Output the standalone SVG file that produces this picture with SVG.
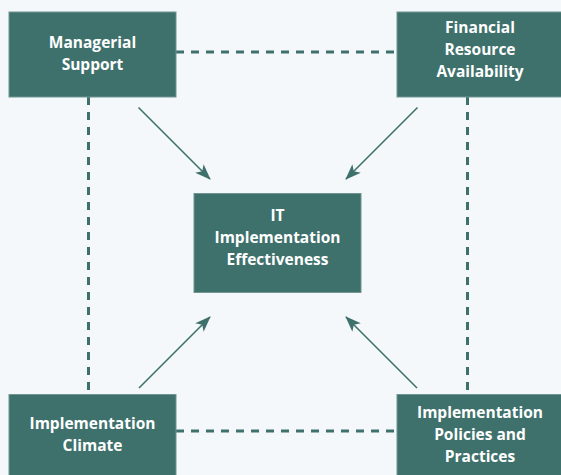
<svg xmlns="http://www.w3.org/2000/svg" width="561" height="475" viewBox="0 0 561 475">
<defs>
<style>
.box{fill:#3e716c;stroke:#6f9692;stroke-width:1}
.lbl{fill:#ffffff;font-family:"Open Sans","DejaVu Sans",sans-serif;font-weight:bold;font-size:15.5px;text-anchor:middle}
.dash{stroke:#3e716c;stroke-width:3;stroke-dasharray:8 7;fill:none}
.arr{stroke:#3e716c;stroke-width:1.6;fill:none;marker-end:url(#ah)}
</style>
<marker id="ah" viewBox="0 0 16 12" refX="15" refY="6" markerWidth="16" markerHeight="12" markerUnits="userSpaceOnUse" orient="auto">
<path d="M0,0 L16,6 L0,12 L4,6 z" fill="#3e716c"/>
</marker>
</defs>
<rect width="561" height="475" fill="#f5f8fb"/>
<g id="connectors">
<line class="dash" x1="176" y1="52" x2="397" y2="52"/>
<line class="dash" x1="176" y1="431" x2="397" y2="431"/>
<line class="dash" x1="88.5" y1="97" x2="88.5" y2="394"/>
<line class="dash" x1="467.5" y1="97" x2="467.5" y2="394"/>
<line class="arr" x1="138.5" y1="107.5" x2="210" y2="179"/>
<line class="arr" x1="417.5" y1="107.5" x2="346" y2="179"/>
<line class="arr" x1="139" y1="388" x2="210" y2="317"/>
<line class="arr" x1="417" y1="388" x2="346" y2="317"/>
</g>
<g id="managerial">
<rect class="box" x="9" y="12" width="167" height="85"/>
<text class="lbl" x="92.5" y="48">Managerial</text>
<text class="lbl" x="92.5" y="70">Support</text>
</g>
<g id="financial">
<rect class="box" x="397" y="12" width="167" height="85"/>
<text class="lbl" x="480" y="33">Financial</text>
<text class="lbl" x="480" y="55">Resource</text>
<text class="lbl" x="480" y="77">Availability</text>
</g>
<g id="effectiveness">
<rect class="box" x="194" y="193.5" width="167" height="99"/>
<text class="lbl" x="277.5" y="221">IT</text>
<text class="lbl" x="277.5" y="243">Implementation</text>
<text class="lbl" x="277.5" y="265">Effectiveness</text>
</g>
<g id="climate">
<rect class="box" x="9" y="394.5" width="167" height="85"/>
<text class="lbl" x="92.5" y="429">Implementation</text>
<text class="lbl" x="92.5" y="451">Climate</text>
</g>
<g id="policies">
<rect class="box" x="397" y="394.5" width="167" height="85"/>
<text class="lbl" x="480" y="418">Implementation</text>
<text class="lbl" x="480" y="440">Policies and</text>
<text class="lbl" x="480" y="462">Practices</text>
</g>
</svg>
